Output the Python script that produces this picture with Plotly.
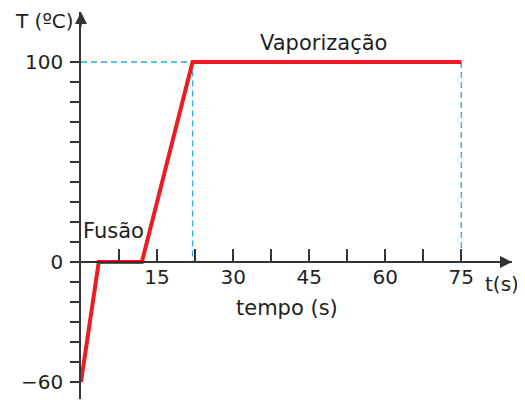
import plotly.graph_objects as go

# curva de aquecimento: tempo (s) x temperatura (ºC)
tempo = [0, 3.5, 12, 22, 75]
temperatura = [-60, 0, 0, 100, 100]

# linhas tracejadas de referência
t_ebulicao = 22
t_final = 75
T_ebulicao = 100

x_ticks = [7.5, 15, 22.5, 30, 37.5, 45, 52.5, 60, 67.5, 75]
x_labels = ["", "15", "", "30", "", "45", "", "60", "", "75"]
y_ticks = [-60, -50, -40, -30, -20, -10, 0, 10, 20, 30, 40, 50, 60, 70, 80, 90, 100]
y_labels = ["\u221260", "", "", "", "", "", "0", "", "", "", "", "", "", "", "", "", "100"]

x_range = [0, 85]
y_range = [-68.5, 125]

eixo = "#333333"
azul = "#29abe2"
vermelho = "#ed1c24"
fonte = dict(family="DejaVu Sans", size=20, color="#231f20")

fig = go.Figure()

# tracejados
fig.add_trace(go.Scatter(
    x=[0, t_ebulicao, t_ebulicao], y=[T_ebulicao, T_ebulicao, 0],
    mode="lines", line=dict(color=azul, width=1.3, dash="6px,4px"),
    hoverinfo="skip"
))
fig.add_trace(go.Scatter(
    x=[t_final, t_final], y=[T_ebulicao, 0],
    mode="lines", line=dict(color=azul, width=1.3, dash="6px,4px"),
    hoverinfo="skip"
))

# curva
fig.add_trace(go.Scatter(
    x=tempo, y=temperatura, mode="lines",
    line=dict(color=vermelho, width=4)
))

pos_x = (0 - y_range[0]) / (y_range[1] - y_range[0])

# a página tem 8px de margem no body: a figura é menor para caber na janela
fig.update_layout(
    width=517, height=392,
    margin=dict(l=73, r=13, t=4, b=1),
    plot_bgcolor="white", paper_bgcolor="white",
    showlegend=False,
    font=fonte,
    xaxis=dict(
        range=x_range, anchor="free", position=pos_x, automargin=False,
        showline=True, linecolor=eixo, linewidth=1.5,
        showgrid=False, zeroline=False,
        tickmode="array", tickvals=x_ticks, ticktext=x_labels,
        ticks="inside", ticklen=12, tickwidth=1.5, tickcolor=eixo,
        ticklabelstandoff=-3,
    ),
    yaxis=dict(
        range=y_range, automargin=False,
        showline=True, linecolor=eixo, linewidth=1.5,
        showgrid=False, zeroline=False,
        tickmode="array", tickvals=y_ticks, ticktext=y_labels,
        ticks="outside", ticklen=9, tickwidth=1.5, tickcolor=eixo,
        ticklabelstandoff=3,
    ),
)

# setas dos eixos
fig.add_annotation(x=x_range[1], y=0, ax=x_range[1] - 4, ay=0,
                   xref="x", yref="y", axref="x", ayref="y", text="",
                   showarrow=True, arrowhead=2, arrowsize=1.6,
                   arrowwidth=1.5, arrowcolor=eixo)
fig.add_annotation(x=0, y=y_range[1], ax=0, ay=y_range[1] - 8,
                   xref="x", yref="y", axref="x", ayref="y", text="",
                   showarrow=True, arrowhead=2, arrowsize=1.6,
                   arrowwidth=1.5, arrowcolor=eixo)

# textos
fig.add_annotation(x=-0.012, y=120.5, xref="paper", yref="y", text="T (ºC)",
                   showarrow=False, xanchor="right", yanchor="middle",
                   font=dict(size=20))
fig.add_annotation(x=0.935, y=-11, xref="paper", yref="y", text="t(s)",
                   showarrow=False, xanchor="left", yanchor="middle",
                   font=dict(size=20), borderpad=0)
fig.add_annotation(x=40.7, y=-23, text="tempo (s)", showarrow=False,
                   font=dict(size=21))
fig.add_annotation(x=6.5, y=15.5, text="Fusão", showarrow=False,
                   font=dict(size=21))
fig.add_annotation(x=47.8, y=109.6, text="Vaporização", showarrow=False,
                   font=dict(size=21))

fig.write_html("out.html")
